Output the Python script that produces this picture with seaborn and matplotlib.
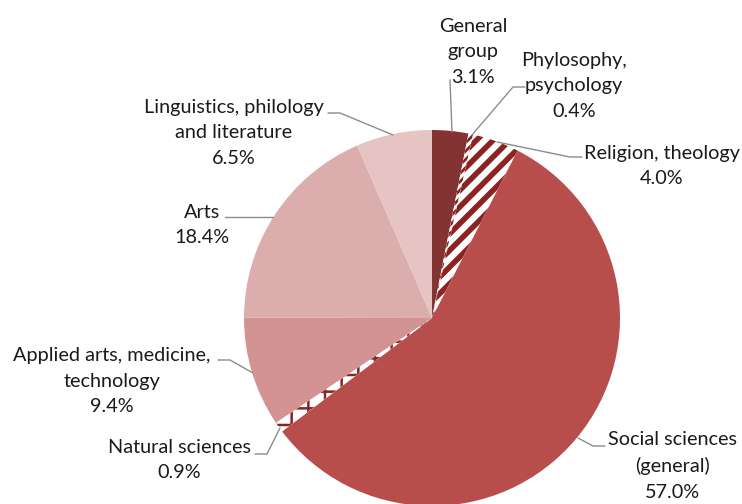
"""
Pie chart: share of published titles by subject group.
"""

import matplotlib

matplotlib.use("Agg")
import matplotlib.pyplot as plt
import seaborn as sns

categories = [
    "General\ngroup",
    "Phylosophy,\npsychology",
    "Religion, theology",
    "Social sciences\n(general)",
    "Natural sciences",
    "Applied arts, medicine,\ntechnology",
    "Arts",
    "Linguistics, philology\nand literature",
]
shares = [3.1, 0.4, 4.0, 57.0, 0.9, 9.4, 18.4, 6.5]

face_colors = ["#843333", "white", "white", "#B84E4B", "white", "#D39392", "#DBADAD", "#E6C4C4"]
hatches = [None, "////", "//", None, "+", None, None, None]
hatch_widths = [None, 2.0, 4.0, None, 1.8, None, None, None]
HATCH_COLOR = "#8B2323"

# label centre and leader line points in pixel coords, origin bottom-left
label_pos = [(473, 452), (574, 418), (662, 338), (672, 38),
             (179, 44), (112, 123), (202, 279), (234, 371)]
leaders = [
    [(452, 372), (450, 424)],
    [(472, 369), (513, 417), (525, 417)],
    [(497, 362), (570, 347), (582, 347)],
    [(578, 66), (593, 58), (605, 58)],
    [(280, 76), (267, 50), (255, 50)],
    [(253, 131), (230, 144), (218, 144)],
    [(273, 287), (225, 287)],
    [(393, 369), (340, 391), (328, 391)],
]

sns.set_theme(style="white")
plt.rcParams["font.family"] = ["Lato", "DejaVu Sans"]

W, H = 742, 504
fig = plt.figure(figsize=(W / 100, H / 100), dpi=100)
ax = fig.add_axes([0, 0, 1, 1])

wedges, _ = ax.pie(
    shares,
    colors=face_colors,
    startangle=90,
    counterclock=False,
    radius=188,
    center=(432, 186),
    wedgeprops={"linewidth": 0},
    frame=True,
)

for w, h, hw in zip(wedges, hatches, hatch_widths):
    if h is None:
        continue
    w.set_edgecolor(HATCH_COLOR)
    w.set_linewidth(0)
    w.set_hatch(h)
    if hasattr(w, "set_hatch_linewidth"):
        w.set_hatch_linewidth(hw)
    else:
        plt.rcParams["hatch.linewidth"] = hw

for name, pct, pos, pts in zip(categories, shares, label_pos, leaders):
    ax.text(pos[0], pos[1], f"{name}\n{pct:.1f}%", ha="center", va="center",
            fontsize=14.3, color="#1a1a1a", linespacing=1.62)
    xs, ys = zip(*pts)
    ax.plot(xs, ys, color="#8C8C8C", lw=1.0)

ax.set_xlim(0, W)
ax.set_ylim(0, H)
ax.set_aspect("equal")
ax.axis("off")

fig.savefig("out.png", dpi=100)
plt.close(fig)
